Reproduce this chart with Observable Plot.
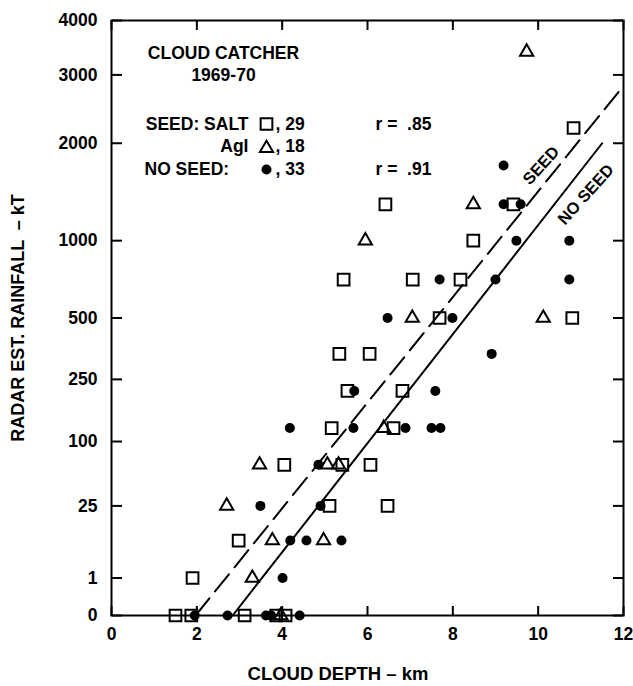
<!DOCTYPE html>
<html>
<head>
<meta charset="utf-8">
<script src="https://cdn.jsdelivr.net/npm/d3@7"></script>
<script src="https://cdn.jsdelivr.net/npm/@observablehq/plot@0.6"></script>
<style>
  html, body { margin: 0; padding: 0; background: #fff; }
</style>
</head>
<body>
<div id="chart"></div>
<script>
// ---- data (cloud depth km, radar est. rainfall kT) ----
const saltX = [1.50, 1.87, 3.12, 3.86, 4.08, 1.90, 2.98, 4.05, 5.41, 6.07, 5.11, 6.47, 5.16, 6.61, 5.53, 6.82, 5.34, 6.05, 7.69, 10.80, 5.44, 7.06, 8.18, 8.48, 6.42, 9.42, 10.83];
const saltY = [0, 0, 0, 0, 0, 1, 8, 65, 65, 65, 25, 25, 125, 125, 215, 215, 340, 340, 500, 500, 720, 720, 720, 1000, 1320, 1320, 2200];

const aglX = [3.97, 3.30, 3.77, 4.97, 2.70, 3.47, 5.06, 5.32, 6.38, 7.05, 10.12, 5.95, 8.48, 9.73];
const aglY = [0, 1, 8, 8, 25, 65, 65, 65, 125, 500, 500, 1000, 1320, 3400];

const noSeedX = [1.95, 2.72, 3.62, 3.74, 4.41, 4.01, 4.19, 4.57, 5.39, 3.49, 4.90, 4.85, 4.18, 5.67, 6.89, 7.50, 7.71, 5.69, 7.59, 8.91, 6.47, 7.99, 7.69, 9.00, 10.73, 9.49, 10.73, 9.19, 9.59, 9.19];
const noSeedY = [0, 0, 0, 0, 0, 1, 8, 8, 8, 25, 25, 65, 125, 125, 125, 125, 125, 215, 215, 340, 500, 500, 720, 720, 720, 1000, 1000, 1320, 1320, 1730];

// regression lines (end points)
const seedLineX = [1.97, 11.95];
const seedLineY = [0, 2780];
const noSeedLineX = [2.84, 11.5];
const noSeedLineY = [0, 2000];

// line labels (anchored in data units)
const lineLabelText = ["SEED", "NO SEED"];
const lineLabelX = [10.07, 11.12];
const lineLabelY = [1730, 1417];

// axis ticks
const xTicks = [0, 2, 4, 6, 8, 10, 12];
const yTicks = [0, 1, 25, 100, 250, 500, 1000, 2000, 3000, 4000];

// legend content
const legendTitle = ["CLOUD CATCHER", "1969-70"];
const legendLabels = ["SEED: SALT", "AgI", "NO SEED:"];
const legendSymbols = ["square", "triangle", "circle"];
const legendCounts = [29, 18, 33];
const legendR = [".85", null, ".91"];

const xTitle = "CLOUD DEPTH – km";
const yTitle = "RADAR EST. RAINFALL  – kT";

// ---- build ----
const rows = (xs, ys) => xs.map((x, i) => ({x, y: ys[i]}));
const FONT = "'Liberation Sans', Arial, Helvetica, sans-serif";
const FS = 17.5;
const txt = {fontSize: FS, fontWeight: "bold", fill: "black"};
const ann = {...txt, text: d => d, lineAnchor: "middle"};

const symStyle = {
  square: {symbol: "square", r: 6.6, stroke: "black", strokeWidth: 2, fill: "none"},
  triangle: {symbol: "triangle", r: 4.9, stroke: "black", strokeWidth: 2, fill: "none"},
  circle: {symbol: "circle", r: 5, fill: "black", stroke: "none"}
};

const legendMarks = [];
legendTitle.forEach((t, i) => {
  legendMarks.push(Plot.text([t], {...ann, frameAnchor: "top-left", dx: 112, dy: 33 + i * 22, textAnchor: "middle"}));
});
legendLabels.forEach((t, i) => {
  const dy = 103.5 + i * 22.75;
  if (i === 2) {
    legendMarks.push(Plot.text([t], {...ann, frameAnchor: "top-left", dx: 33, dy, textAnchor: "start"}));
  } else {
    legendMarks.push(Plot.text([t], {...ann, frameAnchor: "top-left", dx: 137, dy, textAnchor: "end"}));
  }
  legendMarks.push(Plot.dot([0], {...symStyle[legendSymbols[i]], frameAnchor: "top-left", dx: 155, dy: dy + (legendSymbols[i] === "triangle" ? 1.5 : 0)}));
  legendMarks.push(Plot.text([", " + legendCounts[i]], {...ann, frameAnchor: "top-left", dx: 164, dy, textAnchor: "start"}));
  if (legendR[i]) {
    legendMarks.push(Plot.text(["r =  " + legendR[i]], {...ann, frameAnchor: "top-left", dx: 264, dy, textAnchor: "start"}));
  }
});

const chart = Plot.plot({
  width: 633,
  height: 686,
  marginLeft: 111,
  marginRight: 10,
  marginTop: 20,
  marginBottom: 71,
  style: {fontFamily: FONT, fontWeight: "bold", fontSize: FS + "px", background: "white", color: "black"},
  x: {domain: [0, 12]},
  y: {type: "pow", exponent: 1 / 3, domain: [0, 4000]},
  marks: [
    // tick labels
    Plot.axisY(yTicks, {anchor: "left", tickSize: 0, tickPadding: 14, tickFormat: d => String(d), label: null, ...txt}),
    Plot.axisX(xTicks, {anchor: "bottom", tickSize: 0, tickPadding: 12, tickFormat: d => String(d), label: null, ...txt}),
    // inward ticks on all four sides
    Plot.axisY(yTicks, {anchor: "right", frameAnchor: "left", tickSize: 10, strokeWidth: 2, fill: "none", label: null}),
    Plot.axisY(yTicks, {anchor: "left", frameAnchor: "right", tickSize: 10, strokeWidth: 2, fill: "none", label: null}),
    Plot.axisX(xTicks, {anchor: "top", frameAnchor: "bottom", tickSize: 10, strokeWidth: 2, fill: "none", label: null}),
    Plot.axisX(xTicks, {anchor: "bottom", frameAnchor: "top", tickSize: 10, strokeWidth: 2, fill: "none", label: null}),
    Plot.frame({stroke: "black", strokeWidth: 2}),
    // axis titles
    Plot.text([xTitle], {...ann, frameAnchor: "bottom", textAnchor: "middle", dx: -29.5, dy: 59, fontSize: 18.5}),
    Plot.text([yTitle], {...ann, frameAnchor: "left", textAnchor: "middle", dx: -93, rotate: -90, fontSize: 18}),
    // regression lines
    Plot.line(rows(seedLineX, seedLineY), {x: "x", y: "y", stroke: "black", strokeWidth: 2, strokeDasharray: "22,9"}),
    Plot.line(rows(noSeedLineX, noSeedLineY), {x: "x", y: "y", stroke: "black", strokeWidth: 2}),
    Plot.text(lineLabelText.map((t, i) => ({t, x: lineLabelX[i], y: lineLabelY[i]})), {x: "x", y: "y", text: "t", rotate: -48, ...txt, fontSize: 16.5}),
    // data points
    Plot.dot(rows(saltX, saltY), {x: "x", y: "y", ...symStyle.square}),
    Plot.dot(rows(aglX, aglY), {x: "x", y: "y", ...symStyle.triangle}),
    Plot.dot(rows(noSeedX, noSeedY), {x: "x", y: "y", ...symStyle.circle}),
    ...legendMarks
  ]
});

document.getElementById("chart").appendChild(chart);
</script>
</body>
</html>
